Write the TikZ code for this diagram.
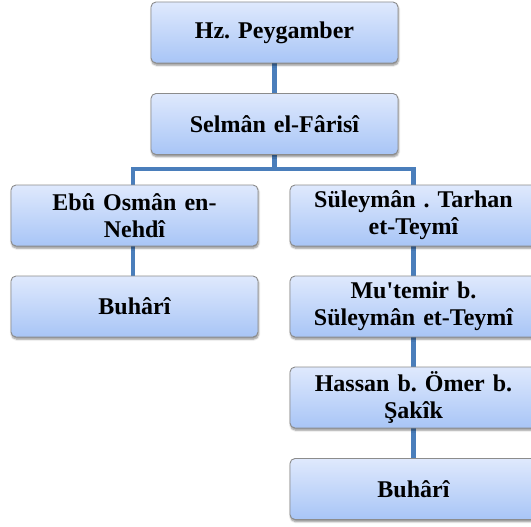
\documentclass[tikz,border=0pt]{standalone}
\usepackage{fontspec}
\setmainfont{Liberation Serif}[Ligatures=TeXOff]
\usetikzlibrary{shadows.blur,backgrounds}
\definecolor{boxtop}{HTML}{DFE9FD}
\definecolor{boxbot}{HTML}{A8C5F6}
\definecolor{boxline}{HTML}{8C8C8C}
\definecolor{conn}{HTML}{4A7EBB}
\frenchspacing
\tikzset{
  orgbox/.style={draw=boxline, line width=0.9pt, rounded corners=5pt,
    top color=boxtop, bottom color=boxbot,
    minimum width=247pt, minimum height=61pt, inner sep=2pt,
    text width=240pt, align=center,
    font=\fontsize{24}{27}\selectfont\bfseries,
    blur shadow={shadow xshift=0.6pt, shadow yshift=-2.2pt, shadow blur steps=6, shadow opacity=45}},
  link/.style={draw=conn, line width=4.6pt}
}
\begin{document}
\begin{tikzpicture}[x=1pt,y=-1pt]
\useasboundingbox (0,0) rectangle (531,527);
\clip (0,0) rectangle (531,527);
\node[orgbox] (top) at (274.5,32.5) {Hz. Peygamber};
\node[orgbox] (sel) at (274.5,124) {Selmân el-Fârisî};
\node[orgbox] (ebu) at (134.5,215.5) {Ebû Osmân en-\\Nehdî};
\node[orgbox] (sul) at (413.5,215.5) {Süleymân . Tarhan\\et-Teymî};
\node[orgbox] (bul) at (134.5,306.5) {Buhârî};
\node[orgbox] (mut) at (413.5,306.5) {Mu'temir b.\\Süleymân et-Teymî};
\node[orgbox] (has) at (413.5,397.5) {Hassan b. Ömer b.\\Şakîk};
\node[orgbox] (bur) at (413.5,489) {Buhârî};
\coordinate (bus) at (274.5,169);
\begin{scope}[on background layer]
\draw[link] (top.south) -- (sel.north);
\draw[link] (sel.south) -- (bus);
\draw[link] ([xshift=-1.5pt]ebu.north) |- (bus) -| (sul.north);
\draw[link] ([xshift=-1.5pt]ebu.south) -- ([xshift=-1.5pt]bul.north);
\draw[link] (sul.south) -- (mut.north);
\draw[link] (mut.south) -- (has.north);
\draw[link] (has.south) -- (bur.north);
\end{scope}
\end{tikzpicture}
\end{document}
